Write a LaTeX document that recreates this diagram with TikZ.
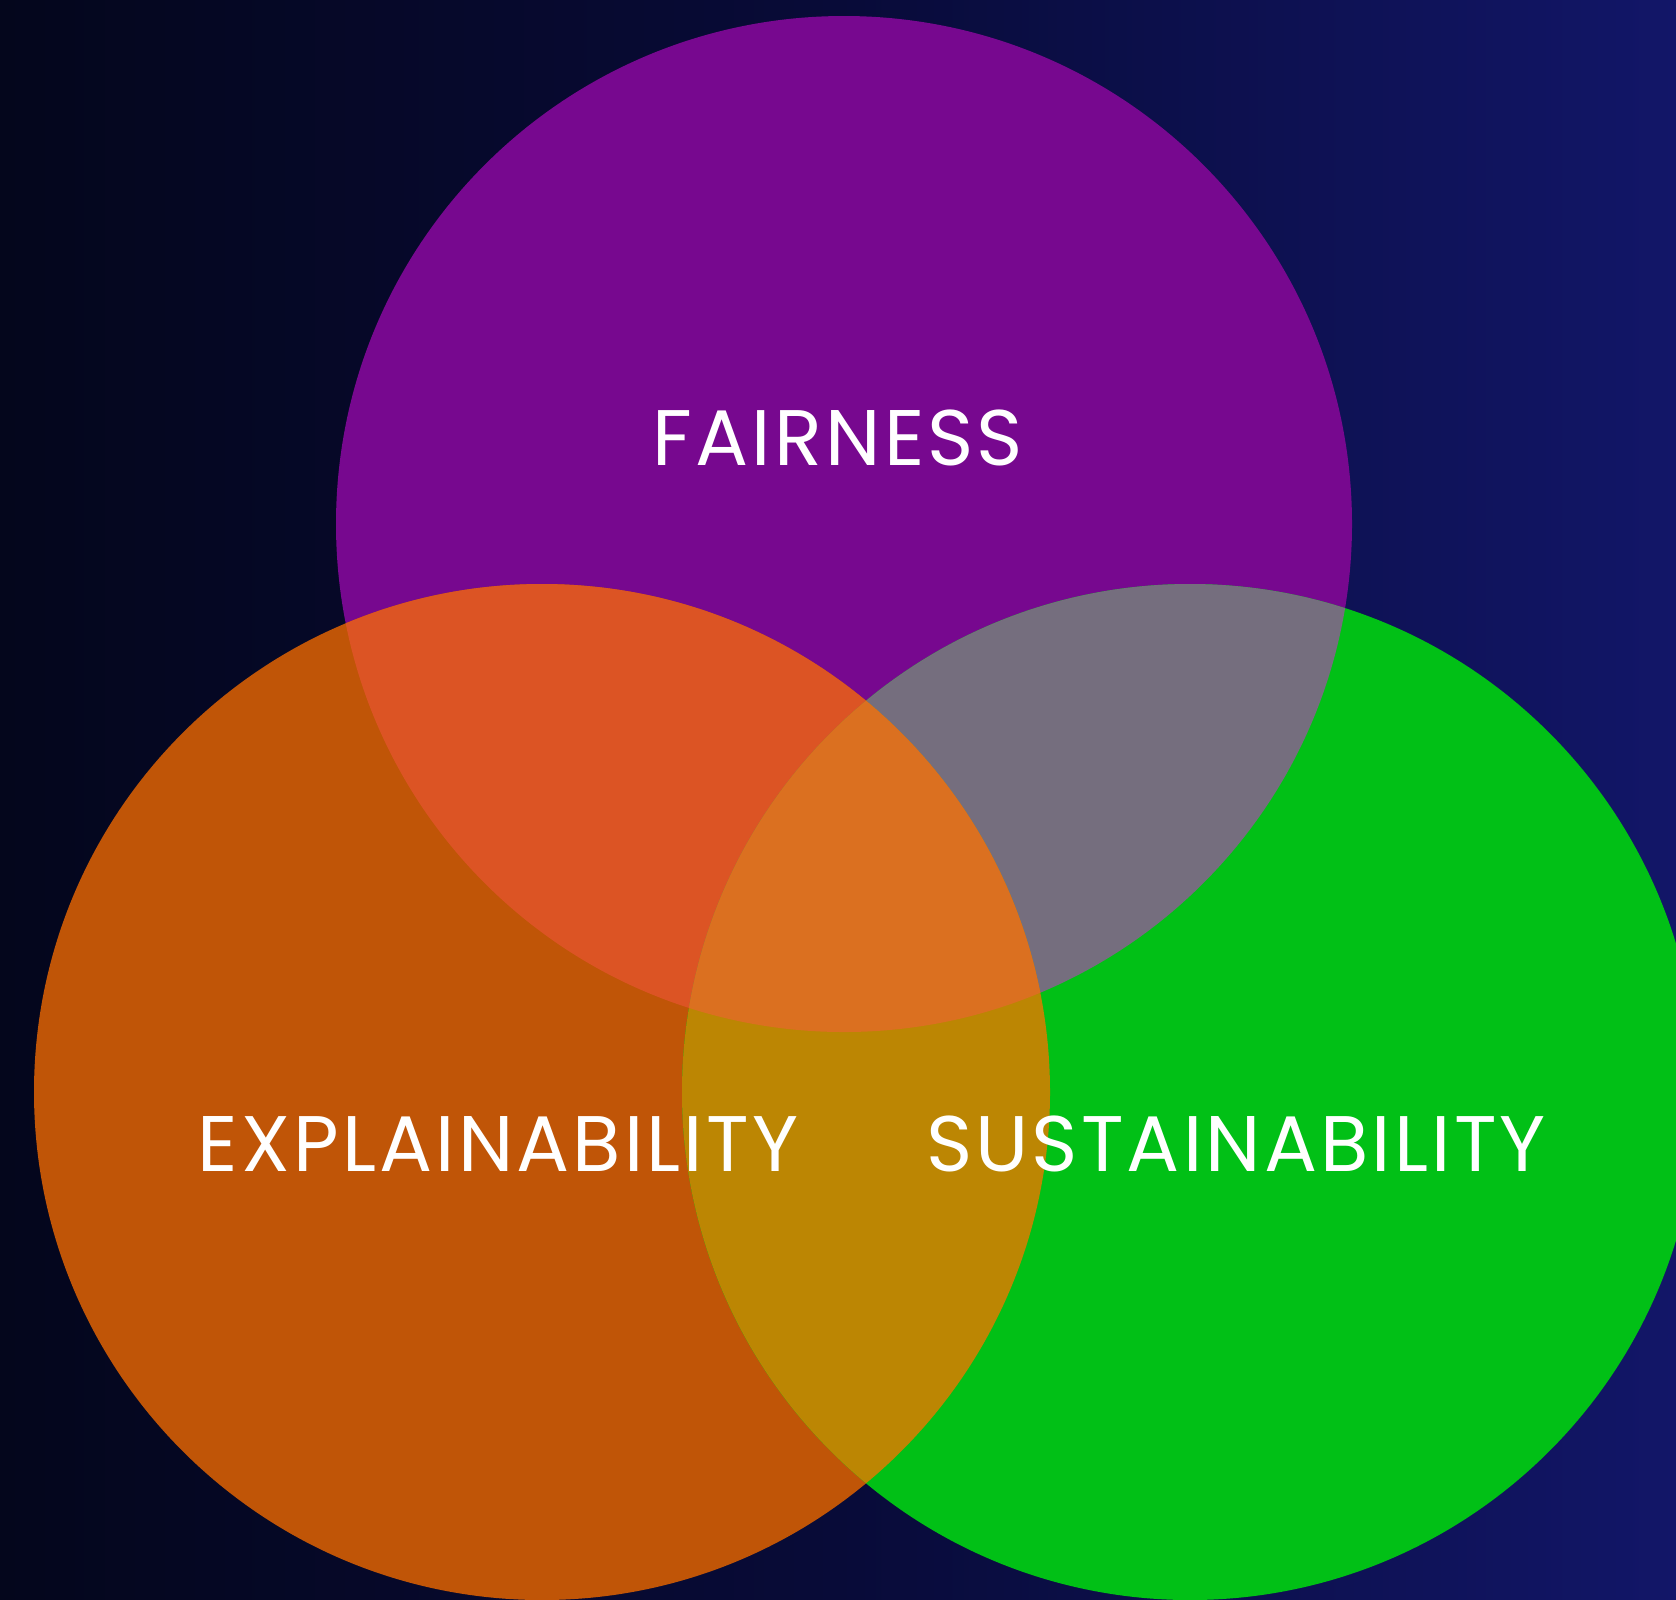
\documentclass[tikz,border=0pt]{standalone}
\usepackage{fontspec}
\setmainfont[LetterSpace=4]{Poppins}
\usepackage{xcolor}
\usepackage{tikz}
\usetikzlibrary{positioning}
\definecolor{venbgdark}{HTML}{04061C}
\definecolor{venbgmid}{HTML}{080B38}
\definecolor{venbglight}{HTML}{121668}
\definecolor{venpurple}{HTML}{77088F}
\definecolor{venorange}{HTML}{C05507}
\definecolor{vengreen}{HTML}{01C016}
\definecolor{venpo}{HTML}{DC5424}
\definecolor{venpg}{HTML}{756E7E}
\definecolor{venog}{HTML}{BC8603}
\definecolor{venall}{HTML}{DB7020}

\begin{document}
\begin{tikzpicture}[
  x=0.01cm,y=-0.01cm,
  venlabel/.style={text=white,font=\fontsize{22.4}{26}\selectfont,inner sep=0pt,anchor=center}
]
\useasboundingbox (0,0) rectangle (1676,1599);
\shade[left color=venbgdark,right color=venbglight,middle color=venbgmid] (0,0) rectangle (1676,1599);
\coordinate (fair) at (844,524);
\coordinate (expl) at (542,1092);
\coordinate (sust) at (1190,1092);
\def\venr{508}
\begin{scope}
  \clip (0,0) rectangle (1676,1599);
  \fill[venpurple] (fair) circle (\venr);
  \fill[venorange] (expl) circle (\venr);
  \fill[vengreen] (sust) circle (\venr);
  \begin{scope}
    \clip (fair) circle (\venr);
    \fill[venpo] (expl) circle (\venr);
    \fill[venpg] (sust) circle (\venr);
  \end{scope}
  \begin{scope}
    \clip (expl) circle (\venr);
    \fill[venog] (sust) circle (\venr);
    \clip (sust) circle (\venr);
    \fill[venall] (fair) circle (\venr);
  \end{scope}
\end{scope}
\node[venlabel] (fairness) at (838,438) {FAIRNESS};
\node[venlabel] (explain) at (498,1144) {EXPLAINABILITY};
\node[venlabel] (sustain) at (1236,1144) {SUSTAINABILITY};
\end{tikzpicture}
\end{document}
